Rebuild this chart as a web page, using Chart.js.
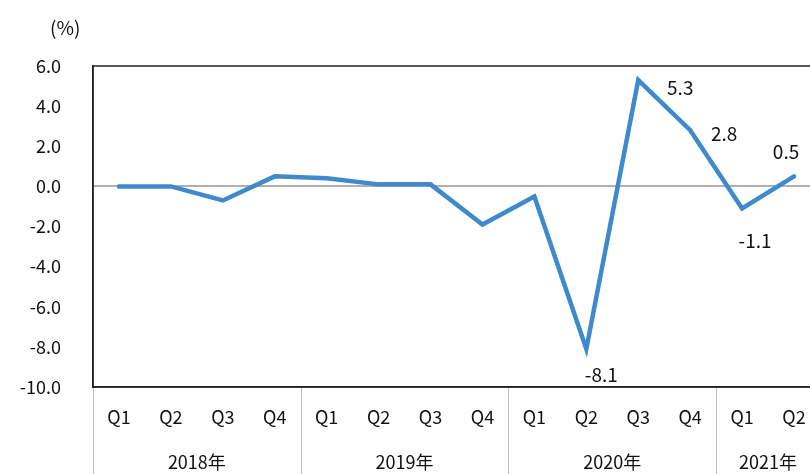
<!DOCTYPE html>
<html><head><meta charset="utf-8">
<script src="https://cdn.jsdelivr.net/npm/chart.js@4"></script>
<style>html,body{margin:0;padding:0;overflow:hidden;background:#fff}#wrap{width:826px;height:474px}</style>
</head><body><div id="wrap"><canvas id="c" width="826" height="474"></canvas></div>
<script>
const quarters = ['Q1','Q2','Q3','Q4','Q1','Q2','Q3','Q4','Q1','Q2','Q3','Q4','Q1','Q2'];
const years = ['2018年','2019年','2020年','2021年'];
const yearSpans = [4,4,4,2];
const gdp = [0.0, 0.0, -0.7, 0.5, 0.4, 0.1, 0.1, -1.9, -0.5, -8.1, 5.3, 2.8, -1.1, 0.5];
const labelledPoints = [9, 10, 11, 12, 13];
const yTicks = [6,4,2,0,-2,-4,-6,-8,-10];
const FONT = '"Noto Sans CJK JP", "Noto Sans", sans-serif';
// label offsets (px) relative to the point, centre of text
const labelOffsets = {9:[15,26], 10:[42,8], 11:[34,4], 12:[13,32], 13:[-8,-25]};

const deco = {
  id:'deco',
  afterDraw(chart){
    const ctx = chart.ctx, a = chart.chartArea, x = chart.scales.x;
    ctx.save();
    ctx.strokeStyle = '#222'; ctx.lineWidth = 1.5;
    ctx.strokeRect(a.left, a.top, a.right - a.left, a.bottom - a.top);
    const step = x.getPixelForValue(1) - x.getPixelForValue(0);
    ctx.strokeStyle = '#bdbdbd'; ctx.lineWidth = 1;
    let idx = 0;
    ctx.fillStyle = '#111'; ctx.font = '18px ' + FONT; ctx.textAlign='center'; ctx.textBaseline='middle';
    years.forEach((yr, i) => {
      const l = x.getPixelForValue(idx) - step/2;
      const r = x.getPixelForValue(idx + yearSpans[i] - 1) + step/2;
      ctx.beginPath(); ctx.moveTo(Math.round(l)+0.5, a.bottom + 1); ctx.lineTo(Math.round(l)+0.5, chart.height); ctx.stroke();
      ctx.fillText(yr, (l + r)/2, 462);
      idx += yearSpans[i];
    });
    ctx.font = '19px ' + FONT; ctx.textAlign='left';
    ctx.fillText('(%)', 50, 28);
    ctx.font = '19px ' + FONT; ctx.textAlign='center';
    const meta = chart.getDatasetMeta(0);
    labelledPoints.forEach(i => {
      const p = meta.data[i], o = labelOffsets[i];
      ctx.fillText(gdp[i].toFixed(1), p.x + o[0], p.y + o[1]);
    });
    ctx.restore();
  }
};

new Chart(document.getElementById('c'), {
  type:'line',
  data:{ labels: quarters, datasets:[{ data: gdp, borderColor:'#3f8acb', borderWidth:4.5, pointRadius:0, tension:0, fill:false, borderCapStyle:'round', borderJoinStyle:'miter' }] },
  options:{
    responsive:false, animation:false,
    layout:{ padding:{ top:66, right:6, left:0, bottom:0 } },
    plugins:{ legend:{display:false}, tooltip:{enabled:false} },
    scales:{
      x:{
        offset:true,
        grid:{ display:false, drawTicks:false, offset:true },
        border:{ display:true, color:'#222', width:1.5 },
        ticks:{ color:'#111', font:{ family:FONT, size:18 }, padding:19, maxRotation:0, autoSkip:false },
        afterFit(s){ s.height = 87; }
      },
      y:{
        min:-10, max:6,
        afterBuildTicks(s){ s.ticks = yTicks.map(v => ({value:v})); },
        grid:{ drawTicks:false, color: c => c.tick && c.tick.value === 0 ? '#b0b0b0' : 'rgba(0,0,0,0)', lineWidth:2 },
        border:{ display:true, color:'#222', width:1.5 },
        ticks:{ color:'#111', font:{ family:FONT, size:18 }, padding:32, callback: v => v.toFixed(1) },
        afterFit(s){ s.width = 93; }
      }
    }
  },
  plugins:[deco]
});
</script></body></html>
